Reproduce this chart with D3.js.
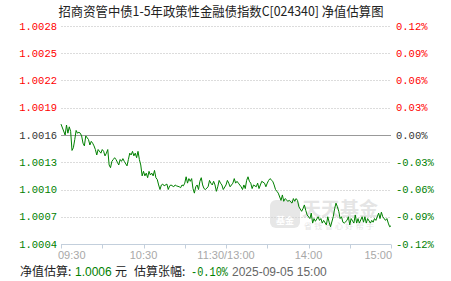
<!DOCTYPE html>
<html>
<head>
<meta charset="utf-8">
<script src="https://cdn.jsdelivr.net/npm/d3@7"></script>
<style>
body { margin: 0; background: #fff; }
svg { display: block; }
</style>
</head>
<body>
<div id="chart"></div>
<script>
// chart values
var titleText = "招商资管中债1-5年政策性金融债指数C[024340] 净值估算图";
var baseNav = 1.0016;
var navTicks = [1.0004, 1.0007, 1.0010, 1.0013, 1.0016, 1.0019, 1.0022, 1.0025, 1.0028];
var navLabels = ["1.0004", "1.0007", "1.0010", "1.0013", "1.0016", "1.0019", "1.0022", "1.0025", "1.0028"];
var pctLabels = ["-0.12%", "-0.09%", "-0.06%", "-0.03%", "0.00%", "0.03%", "0.06%", "0.09%", "0.12%"];
var tickMinutes = [0, 30, 60, 90, 120, 150, 180, 210, 240];
var labelMinutes = [0, 60, 120, 180, 240];
var timeLabels = ["09:30", "10:30", "11:30/13:00", "14:00", "15:00"];

// minutes since 09:30 (trading time), estimated nav
var minutes = [0, 3, 4, 5, 6, 7, 8, 9, 10, 11, 12, 13, 14, 15, 16, 17, 18, 20, 21, 22,
    23, 24, 25, 26, 27, 29, 30, 31, 32, 33, 34, 35, 36, 37, 38, 39, 40, 41, 42, 43,
    44, 45, 46, 48, 49, 50, 51, 52, 53, 54, 55, 56, 57, 58, 59, 60, 61, 62, 63, 64,
    65, 66, 67, 68, 69, 70, 71, 72, 73, 74, 75, 77, 78, 79, 80, 82, 83, 84, 86, 87,
    88, 89, 90, 91, 92, 93, 94, 95, 96, 97, 98, 99, 100, 101, 102, 103, 104, 105, 107, 108,
    109, 110, 111, 112, 113, 114, 115, 116, 117, 118, 120, 121, 122, 123, 125, 126, 127, 128, 129, 131,
    132, 133, 134, 135, 136, 137, 138, 139, 140, 142, 143, 144, 145, 146, 148, 149, 150, 151, 152, 154,
    155, 156, 157, 158, 160, 161, 162, 163, 165, 166, 168, 169, 170, 171, 172, 173, 175, 176, 177, 178,
    179, 181, 182, 183, 184, 185, 187, 188, 189, 190, 191, 193, 194, 195, 196, 198, 199, 200, 201, 202,
    203, 204, 205, 206, 208, 209, 210, 211, 213, 214, 215, 216, 217, 219, 220, 221, 222, 223, 225, 226,
    227, 228, 229, 231, 232, 233, 234, 236, 237, 238, 239, 240];
var navs = [1.00172, 1.00160, 1.00171, 1.00162, 1.00169, 1.00164, 1.00143, 1.00146, 1.00155, 1.00165,
    1.00162, 1.00163, 1.00162, 1.00159, 1.00151, 1.00148, 1.00159, 1.00155, 1.00149, 1.00153,
    1.00151, 1.00148, 1.00144, 1.00138, 1.00144, 1.00140, 1.00144, 1.00142, 1.00137, 1.00140,
    1.00144, 1.00127, 1.00124, 1.00131, 1.00133, 1.00135, 1.00133, 1.00130, 1.00127, 1.00133,
    1.00131, 1.00134, 1.00131, 1.00126, 1.00133, 1.00140, 1.00138, 1.00142, 1.00137, 1.00140,
    1.00135, 1.00142, 1.00133, 1.00127, 1.00115, 1.00120, 1.00115, 1.00118, 1.00113, 1.00120,
    1.00116, 1.00118, 1.00115, 1.00121, 1.00113, 1.00111, 1.00105, 1.00100, 1.00105, 1.00106,
    1.00104, 1.00106, 1.00100, 1.00104, 1.00105, 1.00103, 1.00105, 1.00104, 1.00103, 1.00102,
    1.00105, 1.00104, 1.00107, 1.00114, 1.00107, 1.00112, 1.00109, 1.00112, 1.00101, 1.00096,
    1.00103, 1.00105, 1.00100, 1.00109, 1.00113, 1.00105, 1.00101, 1.00100, 1.00103, 1.00110,
    1.00107, 1.00105, 1.00109, 1.00105, 1.00098, 1.00103, 1.00110, 1.00107, 1.00105, 1.00100,
    1.00105, 1.00110, 1.00107, 1.00103, 1.00107, 1.00112, 1.00107, 1.00109, 1.00107, 1.00103,
    1.00100, 1.00105, 1.00101, 1.00110, 1.00114, 1.00109, 1.00107, 1.00101, 1.00105, 1.00103,
    1.00107, 1.00101, 1.00105, 1.00109, 1.00107, 1.00103, 1.00107, 1.00110, 1.00112, 1.00109,
    1.00105, 1.00100, 1.00098, 1.00096, 1.00088, 1.00094, 1.00087, 1.00090, 1.00087, 1.00088,
    1.00085, 1.00090, 1.00087, 1.00090, 1.00088, 1.00081, 1.00076, 1.00079, 1.00083, 1.00077,
    1.00072, 1.00068, 1.00074, 1.00063, 1.00068, 1.00065, 1.00070, 1.00066, 1.00068, 1.00063,
    1.00066, 1.00061, 1.00070, 1.00064, 1.00059, 1.00070, 1.00079, 1.00085, 1.00081, 1.00076,
    1.00068, 1.00070, 1.00064, 1.00063, 1.00066, 1.00070, 1.00061, 1.00068, 1.00063, 1.00072,
    1.00063, 1.00068, 1.00063, 1.00070, 1.00064, 1.00070, 1.00063, 1.00068, 1.00063, 1.00066,
    1.00064, 1.00068, 1.00066, 1.00074, 1.00068, 1.00075, 1.00070, 1.00066, 1.00068, 1.00063,
    1.00059, 1.00060];

var lastNav = "1.0006";
var lastPct = "-0.10%";
var lastTime = "2025-09-05 15:00";

var width = 451, height = 281;
var margin = {top: 26, right: 60, bottom: 37, left: 61};

var red = "#ff0000", green = "#008000", dark = "#333333";
function colorFor(v) {
    if (Math.abs(v - baseNav) < 1e-9) return dark;
    return v > baseNav ? red : green;
}

var svg = d3.select("#chart")
    .append("svg")
    .attr("width", width)
    .attr("height", height);

var x = d3.scaleLinear()
    .domain([0, 240])
    .range([margin.left, width - margin.right]);
var y = d3.scaleLinear()
    .domain([navTicks[0], navTicks[navTicks.length - 1]])
    .range([height - margin.bottom, margin.top]);

// title
svg.append("text")
    .attr("x", 221)
    .attr("y", 16)
    .attr("text-anchor", "middle")
    .attr("font-family", "'Noto Sans CJK SC', sans-serif")
    .attr("font-size", 13)
    .attr("fill", "#222")
    .attr("textLength", 325)
    .attr("lengthAdjust", "spacingAndGlyphs")
    .text(titleText);

// grid lines
navTicks.forEach(function(v, i) {
    if (i == 0) return;
    var isBase = Math.abs(v - baseNav) < 1e-9;
    svg.append("line")
        .attr("x1", x(0)).attr("x2", x(240))
        .attr("y1", Math.round(y(v)) + 0.5).attr("y2", Math.round(y(v)) + 0.5)
        .attr("stroke", isBase ? "#999" : "#dcdcdc")
        .attr("stroke-width", 1)
        .attr("stroke-dasharray", isBase ? null : "2,1");
});

// left and right labels
var labelFont = "'Liberation Mono', 'DejaVu Sans Mono', monospace";
navTicks.forEach(function(v, i) {
    svg.append("text")
        .attr("x", margin.left - 4)
        .attr("y", y(v))
        .attr("dy", "0.35em")
        .attr("text-anchor", "end")
        .attr("font-family", labelFont)
        .attr("font-size", 10.5)
        .attr("fill", colorFor(v))
        .text(navLabels[i]);
    svg.append("text")
        .attr("x", width - margin.right + 5)
        .attr("y", y(v))
        .attr("dy", "0.35em")
        .attr("font-family", labelFont)
        .attr("font-size", 10.5)
        .attr("fill", colorFor(v))
        .text(pctLabels[i]);
});

// watermark
var wm = svg.append("g").attr("opacity", 0.55);
wm.append("rect")
    .attr("x", 270).attr("y", 200)
    .attr("width", 30).attr("height", 28)
    .attr("rx", 6)
    .attr("fill", "#d4d4d4");
wm.append("text")
    .attr("x", 285).attr("y", 224)
    .attr("text-anchor", "middle")
    .attr("font-family", "'Noto Sans CJK SC', sans-serif")
    .attr("font-size", 9)
    .attr("font-weight", "bold")
    .attr("fill", "#fff")
    .text("基金");
wm.append("text")
    .attr("x", 302).attr("y", 216)
    .attr("font-family", "'Noto Sans CJK SC', sans-serif")
    .attr("font-size", 19)
    .attr("font-weight", "bold")
    .attr("fill", "#d0d0d0")
    .text("天天基金");
wm.append("text")
    .attr("x", 304).attr("y", 229)
    .attr("font-family", "'Noto Sans CJK SC', sans-serif")
    .attr("font-size", 8)
    .attr("fill", "#d0d0d0")
    .attr("textLength", 70)
    .text("省钱省心好帮手");

// x axis
var axisY = Math.round(y(navTicks[0])) + 0.5;
svg.append("line")
    .attr("x1", x(0)).attr("x2", x(240))
    .attr("y1", axisY).attr("y2", axisY)
    .attr("stroke", "#c3cfdc");
tickMinutes.forEach(function(m) {
    svg.append("line")
        .attr("x1", Math.round(x(m)) + 0.5).attr("x2", Math.round(x(m)) + 0.5)
        .attr("y1", axisY).attr("y2", axisY + 4)
        .attr("stroke", "#c3cfdc");
});
labelMinutes.forEach(function(m, i) {
    var anchor = "middle", px = x(m);
    if (i == 0) { anchor = "start"; px = x(m) - 3; }
    if (i == labelMinutes.length - 1) { anchor = "end"; px = x(m) + 1; }
    svg.append("text")
        .attr("x", px)
        .attr("y", 259)
        .attr("text-anchor", anchor)
        .attr("font-family", "'Liberation Sans', Arial, sans-serif")
        .attr("font-size", 11)
        .attr("fill", "#a8a8a8")
        .text(timeLabels[i]);
});

// nav line
var data = minutes.map(function(m, i) { return {m: m, v: navs[i]}; });
svg.append("path")
    .datum(data)
    .attr("fill", "none")
    .attr("stroke", green)
    .attr("stroke-width", 1)
    .attr("d", d3.line()
        .x(function(d) { return x(d.m); })
        .y(function(d) { return y(d.v); })
    );

// bottom info line
var info = svg.append("text")
    .attr("y", 276)
    .attr("font-size", 12)
    .attr("font-family", "'Liberation Sans', Arial, sans-serif");
info.append("tspan").attr("x", 20).attr("fill", "#222")
    .attr("font-family", "'Noto Sans CJK SC', sans-serif").text("净值估算:");
info.append("tspan").attr("x", 75).attr("fill", green).text(lastNav);
info.append("tspan").attr("x", 115).attr("fill", "#222")
    .attr("font-family", "'Noto Sans CJK SC', sans-serif").text("元");
info.append("tspan").attr("x", 134).attr("fill", "#222")
    .attr("font-family", "'Noto Sans CJK SC', sans-serif").text("估算张幅:");
info.append("tspan").attr("x", 232).attr("fill", "#666").text(lastTime);

svg.append("text")
    .attr("x", 191)
    .attr("y", 276)
    .attr("font-family", labelFont)
    .attr("font-size", 12)
    .attr("fill", green)
    .attr("textLength", 37)
    .attr("lengthAdjust", "spacingAndGlyphs")
    .text(lastPct);
</script>
</body>
</html>
